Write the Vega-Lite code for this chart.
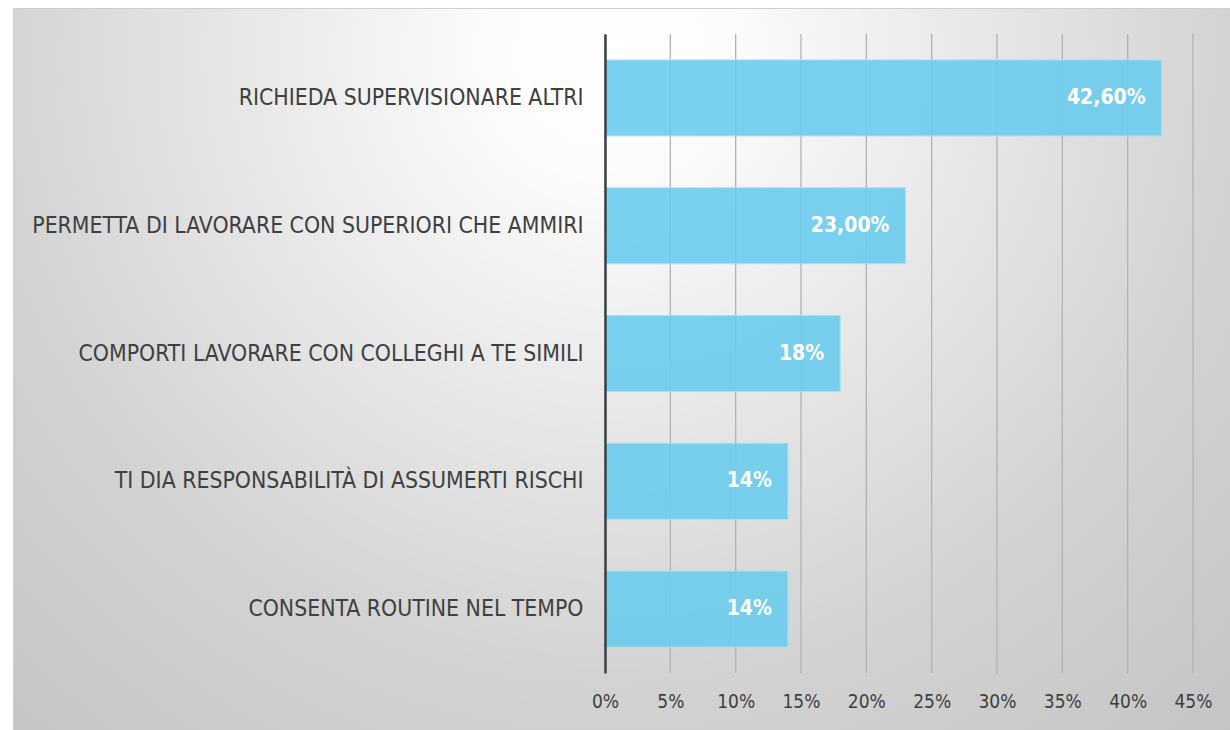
{
  "$schema": "https://vega.github.io/schema/vega-lite/v6.json",
  "width": 1217,
  "height": 722,
  "autosize": {"type": "none"},
  "padding": {"left": 13, "top": 8, "right": 0, "bottom": 0},
  "background": "#ffffff",
  "config": {
    "font": "DejaVu Sans Condensed",
    "view": {
      "fill": {
        "gradient": "radial",
        "x1": 0.49, "y1": 0.24, "r1": 0,
        "x2": 0.49, "y2": 0.24, "r2": 0.76,
        "stops": [
          {"offset": 0, "color": "#ffffff"},
          {"offset": 0.12, "color": "#fcfcfc"},
          {"offset": 0.67, "color": "#d3d3d3"},
          {"offset": 1, "color": "#c4c4c4"}
        ]
      },
      "stroke": "#cfcfcf",
      "strokeWidth": 1
    }
  },
  "data": {
    "values": [
      {"cat": "RICHIEDA SUPERVISIONARE ALTRI\u00a0", "value": 0.426, "label": "42,60%"},
      {"cat": "PERMETTA DI LAVORARE CON SUPERIORI CHE AMMIRI", "value": 0.23, "label": "23,00%"},
      {"cat": "COMPORTI LAVORARE CON COLLEGHI A TE SIMILI", "value": 0.18, "label": "18%"},
      {"cat": "TI DIA RESPONSABILITÀ DI ASSUMERTI RISCHI", "value": 0.14, "label": "14%"},
      {"cat": "CONSENTA ROUTINE NEL TEMPO", "value": 0.14, "label": "14%"}
    ]
  },
  "encoding": {
    "x": {
      "field": "value",
      "type": "quantitative",
      "scale": {"domain": [0, 0.45], "range": [592, 1180]},
      "axis": {
        "title": null,
        "orient": "bottom",
        "offset": -57,
        "values": [0, 0.05, 0.1, 0.15, 0.2, 0.25, 0.3, 0.35, 0.4, 0.45],
        "format": ".0%",
        "domain": false,
        "ticks": false,
        "grid": false,
        "labelFlush": false,
        "labelOverlap": false,
        "labelPadding": 19,
        "labelFont": "DejaVu Sans Condensed",
        "labelFontSize": 19,
        "labelColor": "#404040"
      }
    }
  },
  "layer": [
    {
      "data": {
        "values": [
          {"value": 0}, {"value": 0.05}, {"value": 0.1}, {"value": 0.15}, {"value": 0.2},
          {"value": 0.25}, {"value": 0.3}, {"value": 0.35}, {"value": 0.4}, {"value": 0.45}
        ]
      },
      "mark": {"type": "rule", "color": "#b2b2b2", "strokeWidth": 1.3},
      "encoding": {
        "y": {"datum": 0, "type": "quantitative", "scale": {"domain": [0, 1], "range": [26, 665]}, "axis": null},
        "y2": {"datum": 1}
      }
    },
    {
      "encoding": {
        "y": {
          "field": "cat",
          "type": "nominal",
          "sort": null,
          "scale": {"range": [26, 665], "paddingInner": 0.405, "paddingOuter": 0.2025},
          "axis": {
            "title": null,
            "orient": "left",
            "offset": -592,
            "zindex": 1,
            "domainColor": "#404040",
            "domainWidth": 2.5,
            "ticks": false,
            "labelPadding": 22,
            "labelFont": "DejaVu Sans Condensed",
            "labelFontSize": 22.8,
            "labelColor": "#404040",
            "labelLimit": 0
          }
        }
      },
      "layer": [
        {
          "mark": {"type": "bar", "color": "#6ccdee", "opacity": 0.9, "stroke": "#a6dff4", "strokeWidth": 1}
        },
        {
          "mark": {"type": "text", "align": "right", "dx": -16, "color": "#ffffff", "fontWeight": "bold", "fontSize": 21, "font": "DejaVu Sans Condensed"},
          "encoding": {"text": {"field": "label"}}
        }
      ]
    }
  ],
  "resolve": {"scale": {"y": "independent"}, "axis": {"y": "independent"}}
}
